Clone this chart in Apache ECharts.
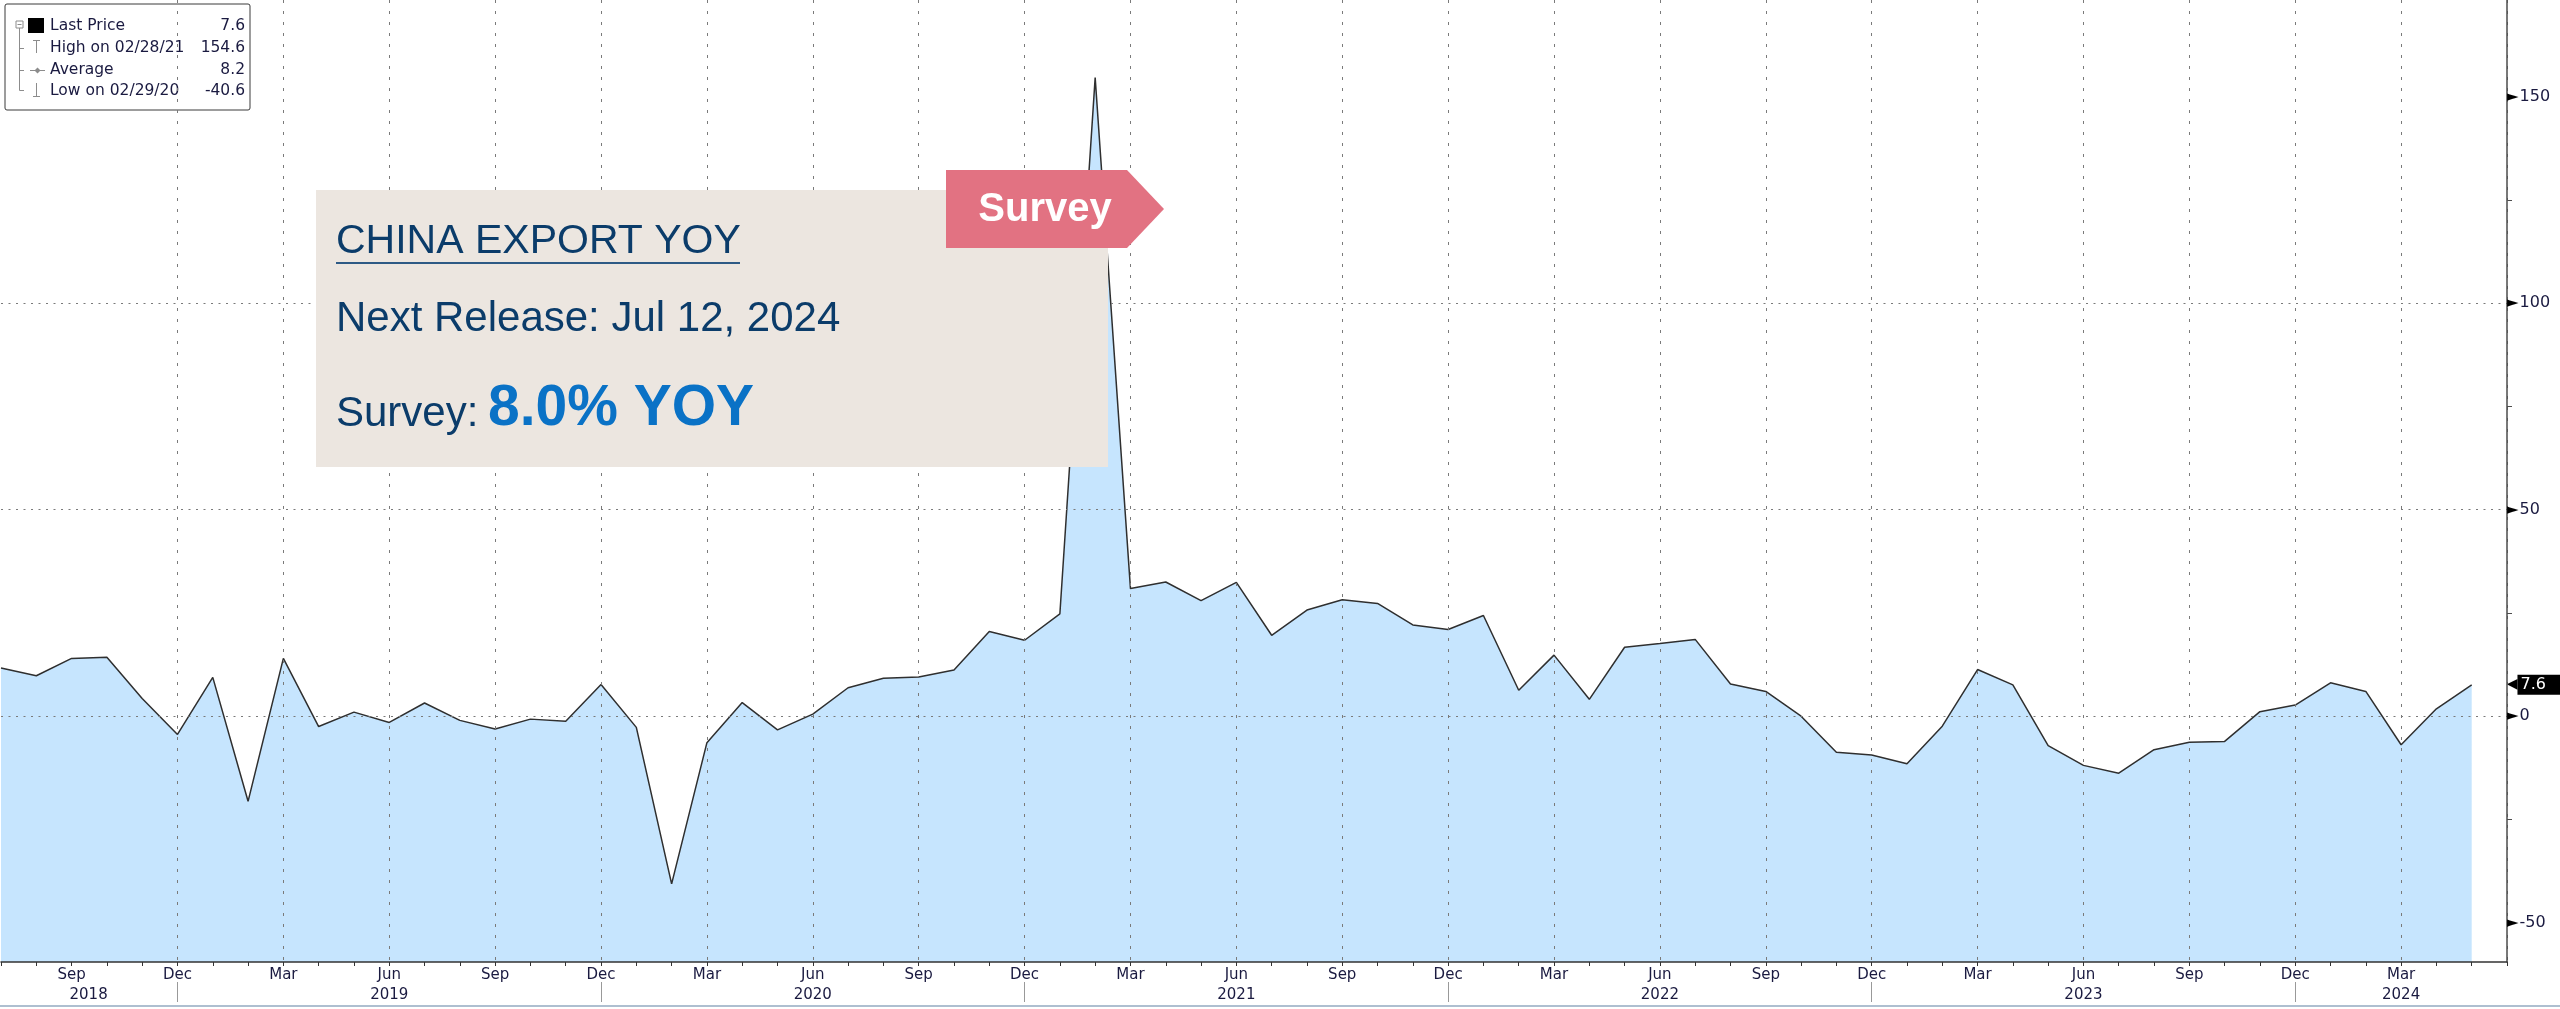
<!DOCTYPE html>
<html>
<head>
    <meta charset="UTF-8">
    <title>China Export YOY</title>
    <script src="https://cdn.jsdelivr.net/npm/echarts@6/dist/echarts.min.js"></script>
    <style>
        body { margin: 0; background: #ffffff; }
        #chart { width: 2560px; height: 1009px; }
    </style>
</head>
<body>
    <div id="chart"></div>
    <script>
        // monthly points, Jul 2018 .. Jun 2024 (last month empty)
        var months = [
            '2018-07', '2018-08', '2018-09', '2018-10', '2018-11', '2018-12',
            '2019-01', '2019-02', '2019-03', '2019-04', '2019-05', '2019-06', '2019-07', '2019-08', '2019-09', '2019-10', '2019-11', '2019-12',
            '2020-01', '2020-02', '2020-03', '2020-04', '2020-05', '2020-06', '2020-07', '2020-08', '2020-09', '2020-10', '2020-11', '2020-12',
            '2021-01', '2021-02', '2021-03', '2021-04', '2021-05', '2021-06', '2021-07', '2021-08', '2021-09', '2021-10', '2021-11', '2021-12',
            '2022-01', '2022-02', '2022-03', '2022-04', '2022-05', '2022-06', '2022-07', '2022-08', '2022-09', '2022-10', '2022-11', '2022-12',
            '2023-01', '2023-02', '2023-03', '2023-04', '2023-05', '2023-06', '2023-07', '2023-08', '2023-09', '2023-10', '2023-11', '2023-12',
            '2024-01', '2024-02', '2024-03', '2024-04', '2024-05', '2024-06'
        ];
        var exportYoy = [
            11.7, 9.8, 14.0, 14.3, 4.3, -4.4,
            9.4, -20.6, 14.0, -2.5, 1.0, -1.5, 3.2, -1.0, -3.1, -0.7, -1.2, 7.7,
            -2.7, -40.6, -6.4, 3.3, -3.3, 0.5, 6.9, 9.2, 9.5, 11.2, 20.5, 18.4,
            24.8, 154.6, 30.9, 32.5, 28.0, 32.4, 19.6, 25.7, 28.2, 27.3, 22.1, 21.0,
            24.4, 6.3, 14.8, 4.1, 16.7, 17.6, 18.6, 7.8, 6.0, 0.0, -8.7, -9.4,
            -11.5, -2.4, 11.3, 7.6, -7.1, -11.9, -13.8, -8.1, -6.3, -6.1, 1.1, 2.7,
            8.1, 6.0, -6.9, 1.8, 7.6, null
        ];
        var monthNames = ['Jan', 'Feb', 'Mar', 'Apr', 'May', 'Jun', 'Jul', 'Aug', 'Sep', 'Oct', 'Nov', 'Dec'];
        var quarterMonths = ['03', '06', '09', '12'];
        var yearLabelAt = ['2018-09', '2019-06', '2020-06', '2021-06', '2022-06', '2023-06', '2024-03'];
        var yMin = -59.5;
        var yMax = 173.4;
        var yMajor = [-50, 0, 50, 100, 150];
        var yMinor = [-25, 25, 75, 125];
        var statNames = ['Last Price', 'High on 02/28/21', 'Average', 'Low on 02/29/20'];
        var statValues = ['7.6', '154.6', '8.2', '-40.6'];

        var labelFont = 'DejaVu Sans';
        var labelColor = '#1a1a40';
        var markColor = '#8c8c8c';

        function isQuarter(i, v) {
            return quarterMonths.indexOf(v.slice(5)) >= 0;
        }
        // no month label on the right edge
        function isQuarterLabel(i, v) {
            return i < months.length - 1 && isQuarter(i, v);
        }

        // legend box, top left
        var legendKids = [
            {type: 'rect', shape: {x: 0, y: 0, width: 245, height: 106, r: 2}, style: {fill: '#fff', stroke: '#3a3a3a', lineWidth: 1}},
            {type: 'rect', shape: {x: 11, y: 17, width: 7, height: 7}, style: {fill: '#fff', stroke: markColor, lineWidth: 1}},
            {type: 'line', shape: {x1: 12.5, y1: 20.5, x2: 16.5, y2: 20.5}, style: {stroke: markColor}},
            {type: 'line', shape: {x1: 14.5, y1: 24, x2: 14.5, y2: 86.5}, style: {stroke: markColor}},
            {type: 'line', shape: {x1: 14.5, y1: 44.5, x2: 19, y2: 44.5}, style: {stroke: markColor}},
            {type: 'line', shape: {x1: 14.5, y1: 66.5, x2: 19, y2: 66.5}, style: {stroke: markColor}},
            {type: 'line', shape: {x1: 14.5, y1: 86.5, x2: 19, y2: 86.5}, style: {stroke: markColor}},
            {type: 'rect', shape: {x: 23, y: 14, width: 16, height: 15}, style: {fill: '#000'}},
            {type: 'line', shape: {x1: 28, y1: 36.5, x2: 35, y2: 36.5}, style: {stroke: markColor}},
            {type: 'line', shape: {x1: 31.5, y1: 36.5, x2: 31.5, y2: 49}, style: {stroke: markColor}},
            {type: 'line', shape: {x1: 25, y1: 66.5, x2: 40, y2: 66.5}, style: {stroke: markColor}},
            {type: 'polygon', shape: {points: [[32.5, 63.5], [35.5, 66.5], [32.5, 69.5], [29.5, 66.5]]}, style: {fill: markColor}},
            {type: 'line', shape: {x1: 31.5, y1: 79, x2: 31.5, y2: 92.5}, style: {stroke: markColor}},
            {type: 'line', shape: {x1: 28, y1: 92.5, x2: 35, y2: 92.5}, style: {stroke: markColor}}
        ];
        var rowY = [22, 44, 66, 87];
        for (var i = 0; i < statNames.length; i++) {
            legendKids.push({type: 'text', x: 45, y: rowY[i], style: {text: statNames[i], font: '15.5px "DejaVu Sans"', fill: labelColor, align: 'left', textAlign: 'left', verticalAlign: 'middle', textVerticalAlign: 'middle'}});
            legendKids.push({type: 'text', x: 240, y: rowY[i], style: {text: statValues[i], font: '15.5px "DejaVu Sans"', fill: labelColor, align: 'right', textAlign: 'right', verticalAlign: 'middle', textVerticalAlign: 'middle'}});
        }

        var chart = echarts.init(document.getElementById('chart'), null, {renderer: 'canvas'});

        var option = {
            animation: false,
            backgroundColor: '#ffffff',
            grid: {left: 1, right: 53, top: 0, bottom: 47, containLabel: false},
            xAxis: [{
                type: 'category',
                data: months,
                boundaryGap: false,
                z: 3,
                axisLine: {onZero: false, lineStyle: {color: '#333', width: 1.5}},
                axisTick: {interval: 0, length: 4, lineStyle: {color: '#333'}},
                axisLabel: {
                    interval: isQuarterLabel,
                    margin: 6,
                    color: labelColor,
                    fontFamily: labelFont,
                    fontSize: 15,
                    formatter: function (v) { return monthNames[parseInt(v.slice(5), 10) - 1]; }
                },
                splitLine: {show: true, interval: isQuarter, showMinLine: false, lineStyle: {type: [3, 8], color: '#7a7a7a', width: 1}}
            }, {
                type: 'category',
                data: months,
                boundaryGap: false,
                position: 'bottom',
                offset: 20,
                axisLine: {show: false, onZero: false},
                axisTick: {show: true, interval: function (i, v) { return v.slice(5) === '12'; }, length: 20, lineStyle: {color: '#999'}},
                axisLabel: {
                    interval: function (i, v) { return yearLabelAt.indexOf(v) >= 0; },
                    margin: 6,
                    color: labelColor,
                    fontFamily: labelFont,
                    fontSize: 15,
                    formatter: function (v) {
                        return v === yearLabelAt[0] ? '{s|' + v.slice(0, 4) + '}' : v.slice(0, 4);
                    },
                    rich: {s: {padding: [0, 0, 0, 34], color: labelColor, fontFamily: labelFont, fontSize: 15}}
                },
                splitLine: {show: false}
            }],
            yAxis: [{
                type: 'value',
                position: 'right',
                min: yMin,
                max: yMax,
                z: 3,
                axisLine: {show: true, lineStyle: {color: '#4d4d4d', width: 1.5}},
                axisTick: {show: false, customValues: yMajor},
                axisLabel: {
                    customValues: yMajor,
                    margin: 0,
                    formatter: function (v) {
                        if (yMajor.indexOf(v) < 0) return '';
                        return '{arr|►}{v|' + v + '}';
                    },
                    rich: {
                        arr: {color: '#000', fontSize: 15, fontFamily: labelFont, padding: [0, 1, 0, 0]},
                        v: {color: labelColor, fontSize: 16, fontFamily: labelFont}
                    }
                },
                splitLine: {show: true, showMinLine: false, showMaxLine: false, lineStyle: {type: [2, 5.5], color: '#7a7a7a', width: 1}}
            }, {
                type: 'value',
                position: 'right',
                min: yMin,
                max: yMax,
                axisLine: {show: false},
                axisTick: {show: true, customValues: yMinor, length: 5, lineStyle: {color: '#4d4d4d'}},
                axisLabel: {show: false},
                splitLine: {show: false}
            }],
            series: [{
                type: 'line',
                data: exportYoy,
                xAxisIndex: 0,
                yAxisIndex: 0,
                symbol: 'none',
                z: 1,
                lineStyle: {color: '#2f2f2f', width: 1.5},
                areaStyle: {color: '#c6e5fe', opacity: 1, origin: 'start'},
                endLabel: {
                    show: true,
                    distance: 5,
                    offset: [30, 0],
                    formatter: function (p) { return '{arr|◀}{box|' + p.value + '}'; },
                    rich: {
                        arr: {color: '#000', fontSize: 14, fontFamily: labelFont},
                        box: {backgroundColor: '#000', color: '#fff', fontSize: 16, fontFamily: labelFont, width: 44, height: 20, lineHeight: 20, padding: [0, 0, 0, 3], align: 'left'}
                    }
                }
            }],
            graphic: [
                {type: 'group', x: 5, y: 4, z: 100, children: legendKids},
                {type: 'rect', z: 100, shape: {x: 316, y: 190, width: 792, height: 277}, style: {fill: '#ece6e0'}},
                {type: 'polygon', z: 101, shape: {points: [[946, 170], [1127, 170], [1164, 209], [1127, 248], [946, 248]]}, style: {fill: '#e27282'}},
                {type: 'text', z: 102, x: 1045, y: 210, style: {text: 'Survey', font: 'bold 40px "Liberation Sans"', fill: '#ffffff', align: 'center', textAlign: 'center', verticalAlign: 'middle', textVerticalAlign: 'middle'}},
                {type: 'text', z: 102, x: 336, y: 242, style: {text: 'CHINA EXPORT YOY', font: '41px "Liberation Sans"', fill: '#0b3c6a', align: 'left', textAlign: 'left', verticalAlign: 'middle', textVerticalAlign: 'middle'}},
                {type: 'line', z: 102, shape: {x1: 336, y1: 263, x2: 740, y2: 263}, style: {stroke: '#2e5a85', lineWidth: 2}},
                {type: 'text', z: 102, x: 336, y: 319, style: {text: 'Next Release: Jul 12, 2024', font: '42px "Liberation Sans"', fill: '#0b3c6a', align: 'left', textAlign: 'left', verticalAlign: 'middle', textVerticalAlign: 'middle'}},
                {type: 'text', z: 102, x: 336, y: 414, style: {text: 'Survey:', font: '42px "Liberation Sans"', fill: '#0b3c6a', align: 'left', textAlign: 'left', verticalAlign: 'middle', textVerticalAlign: 'middle'}},
                {type: 'text', z: 102, x: 488, y: 409, style: {text: '8.0% YOY', font: 'bold 57px "Liberation Sans"', fill: '#0a72c6', align: 'left', textAlign: 'left', verticalAlign: 'middle', textVerticalAlign: 'middle'}},
                {type: 'line', z: 100, shape: {x1: 0, y1: 1006, x2: 2560, y2: 1006}, style: {stroke: '#aebfd0', lineWidth: 2}}
            ]
        };

        chart.setOption(option);
    </script>
</body>
</html>
